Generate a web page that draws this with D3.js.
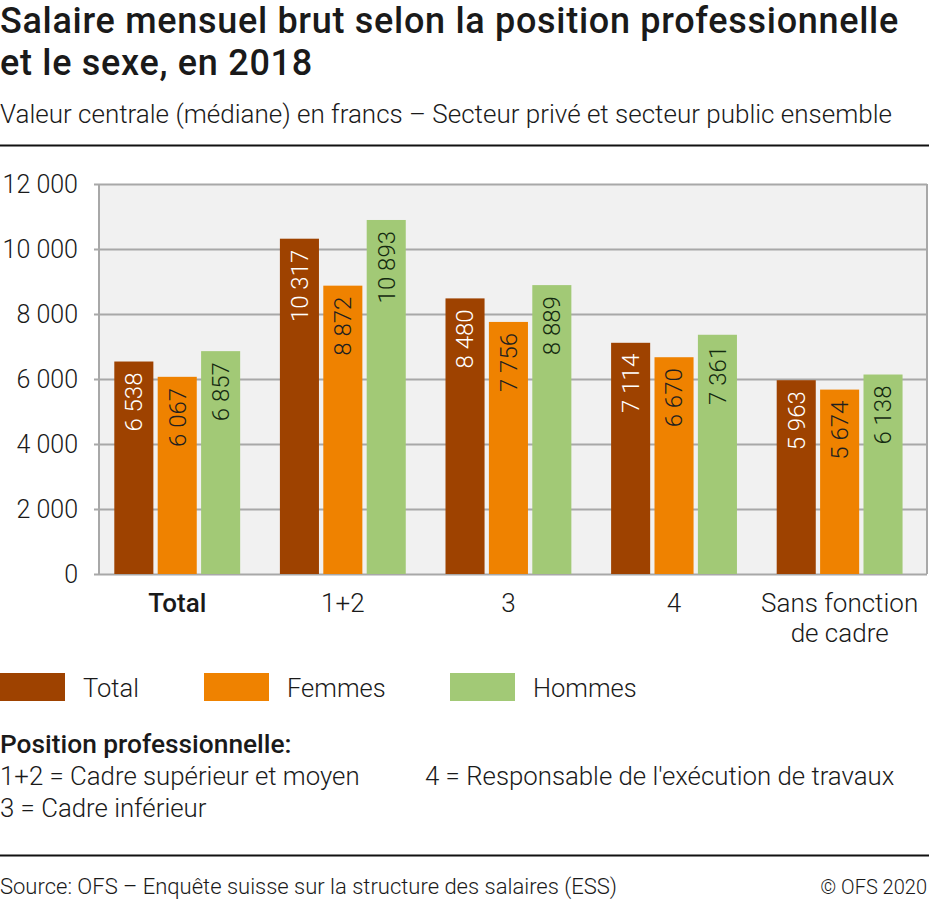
<!DOCTYPE html>
<html>
<head>
<meta charset="utf-8">
<script src="https://cdn.jsdelivr.net/npm/d3@7"></script>
<style>
  body { margin: 0; background: #fff; }
  svg { font-family: Roboto, "Noto Sans", sans-serif; display: block; }
</style>
</head>
<body>
<div id="chart"></div>
<script>
const categories = ['Total', '1+2', '3', '4', 'Sans fonction de cadre'];
const series = ['Total', 'Femmes', 'Hommes'];
const totalValues = [6538, 10317, 8480, 7114, 5963];
const femmesValues = [6067, 8872, 7756, 6670, 5674];
const hommesValues = [6857, 10893, 8889, 7361, 6138];
const yTicks = [0, 2000, 4000, 6000, 8000, 10000, 12000];
const colors = ['#9e4200', '#ef8200', '#a2c976'];
const labelColors = ['#ffffff', '#1f1f1f', '#142a10'];

const W = 929, H = 900;
const margin = { top: 184, right: 2, bottom: 326, left: 99 };
const width = W - margin.left - margin.right;
const height = H - margin.top - margin.bottom;

const fmt = v => d3.format(',')(v).replace(/,/g, ' ');

const rows = categories.map((c, i) => ({
  category: c,
  values: [totalValues[i], femmesValues[i], hommesValues[i]]
}));

const svg = d3.select('#chart').append('svg')
  .attr('width', W)
  .attr('height', H);

// title block
const title = svg.append('text')
  .attr('font-size', 36)
  .attr('font-weight', 500)
  .attr('letter-spacing', 0.7)
  .attr('fill', '#1a1a1a');
title.append('tspan').attr('x', 0).attr('y', 33).text('Salaire mensuel brut selon la position professionnelle');
title.append('tspan').attr('x', 0).attr('y', 75).text('et le sexe, en 2018');

svg.append('text')
  .attr('x', 0).attr('y', 123)
  .attr('font-size', 26)
  .attr('font-weight', 300)
  .attr('fill', '#1a1a1a')
  .text('Valeur centrale (médiane) en francs – Secteur privé et secteur public ensemble');

svg.append('line')
  .attr('x1', 0).attr('x2', W)
  .attr('y1', 145.5).attr('y2', 145.5)
  .attr('stroke', '#111').attr('stroke-width', 2);

const g = svg.append('g')
  .attr('transform', 'translate(' + margin.left + ',' + margin.top + ')');

const x0 = d3.scaleBand()
  .domain(categories)
  .range([0, width])
  .paddingInner(0.24)
  .paddingOuter(0.12)
  .align(0.385);

const x1 = d3.scaleBand()
  .domain(series)
  .range([0, x0.bandwidth()])
  .paddingInner(0.1);

const y = d3.scaleLinear()
  .domain([0, 12000])
  .range([height, 0]);

// plot background
g.append('rect')
  .attr('width', width)
  .attr('height', height)
  .attr('fill', '#f1f1f1');

// grid + y labels
g.append('g')
  .call(d3.axisLeft(y).tickValues(yTicks).tickSize(-width).tickPadding(21).tickFormat(fmt))
  .call(ax => {
    ax.select('.domain').remove();
    ax.selectAll('.tick line')
      .attr('x1', -5)
      .attr('stroke', '#a8a8a8')
      .attr('stroke-width', 2);
    ax.selectAll('.tick text')
      .attr('font-family', 'Roboto, sans-serif')
      .attr('font-size', 25)
      .attr('font-weight', 300)
      .attr('fill', '#1a1a1a');
  });

// right border and left axis
g.append('line')
  .attr('x1', width).attr('x2', width)
  .attr('y1', 0).attr('y2', height)
  .attr('stroke', '#a8a8a8').attr('stroke-width', 2);
g.append('line')
  .attr('x1', 0).attr('x2', 0)
  .attr('y1', 0).attr('y2', height)
  .attr('stroke', '#a8a8a8').attr('stroke-width', 2);

// bars
const groups = g.selectAll('.group')
  .data(rows)
  .enter().append('g')
    .attr('class', 'group')
    .attr('transform', d => 'translate(' + x0(d.category) + ',0)');

groups.selectAll('rect')
  .data(d => d.values.map((v, i) => ({ key: series[i], value: v, i: i })))
  .enter().append('rect')
    .attr('x', d => x1(d.key))
    .attr('y', d => y(d.value))
    .attr('width', x1.bandwidth())
    .attr('height', d => height - y(d.value))
    .attr('fill', d => colors[d.i]);

groups.selectAll('.val')
  .data(d => d.values.map((v, i) => ({ key: series[i], value: v, i: i })))
  .enter().append('text')
    .attr('class', 'val')
    .attr('transform', d => 'translate(' + (x1(d.key) + x1.bandwidth() / 2) + ',' + (y(d.value) + 11) + ') rotate(-90)')
    .attr('text-anchor', 'end')
    .attr('dy', '0.35em')
    .attr('font-size', 24)
    .attr('font-weight', 300)
    .attr('fill', d => labelColors[d.i])
    .text(d => fmt(d.value));

// category labels
const catLabels = g.append('g')
  .attr('transform', 'translate(0,' + height + ')');
catLabels.selectAll('text')
  .data(categories)
  .enter().append('text')
    .attr('x', d => x0(d) + x0.bandwidth() / 2)
    .attr('y', 38)
    .attr('text-anchor', 'middle')
    .attr('font-size', 26)
    .attr('font-weight', (d, i) => i === 0 ? 500 : 300)
    .attr('fill', '#1a1a1a')
    .each(function(d) {
      const el = d3.select(this);
      const lines = d === 'Sans fonction de cadre' ? ['Sans fonction', 'de cadre'] : [d];
      lines.forEach((l, k) => {
        el.append('tspan')
          .attr('x', x0(d) + x0.bandwidth() / 2)
          .attr('dy', k === 0 ? 0 : 30)
          .text(l);
      });
    });

// legend
const legendX = [0, 204, 450];
const legend = svg.append('g').attr('transform', 'translate(0,673)');
series.forEach((s, i) => {
  legend.append('rect')
    .attr('x', legendX[i]).attr('y', 0)
    .attr('width', 65).attr('height', 28)
    .attr('fill', colors[i]);
  legend.append('text')
    .attr('x', legendX[i] + 83).attr('y', 24)
    .attr('font-size', 25.5)
    .attr('font-weight', 300)
    .attr('fill', '#1a1a1a')
    .text(s);
});

// notes
svg.append('text')
  .attr('x', 0).attr('y', 753)
  .attr('font-size', 26.3)
  .attr('font-weight', 500)
  .attr('fill', '#1a1a1a')
  .text('Position professionnelle:');
const notes = [
  { x: 0, y: 785, t: '1+2 = Cadre supérieur et moyen' },
  { x: 425, y: 785, t: "4 = Responsable de l'exécution de travaux" },
  { x: 0, y: 817, t: '3 = Cadre inférieur' }
];
svg.selectAll('.note')
  .data(notes)
  .enter().append('text')
    .attr('class', 'note')
    .attr('x', d => d.x).attr('y', d => d.y)
    .attr('font-size', 25.8)
    .attr('font-weight', 300)
    .attr('fill', '#1a1a1a')
    .text(d => d.t);

svg.append('line')
  .attr('x1', 0).attr('x2', W)
  .attr('y1', 855.5).attr('y2', 855.5)
  .attr('stroke', '#111').attr('stroke-width', 2);

svg.append('text')
  .attr('x', 0).attr('y', 894)
  .attr('font-size', 22)
  .attr('font-weight', 300)
  .attr('fill', '#1a1a1a')
  .text('Source: OFS – Enquête suisse sur la structure des salaires (ESS)');
svg.append('text')
  .attr('x', 927).attr('y', 894)
  .attr('text-anchor', 'end')
  .attr('font-size', 20)
  .attr('font-weight', 300)
  .attr('fill', '#1a1a1a')
  .text('© OFS 2020');
</script>
</body>
</html>
